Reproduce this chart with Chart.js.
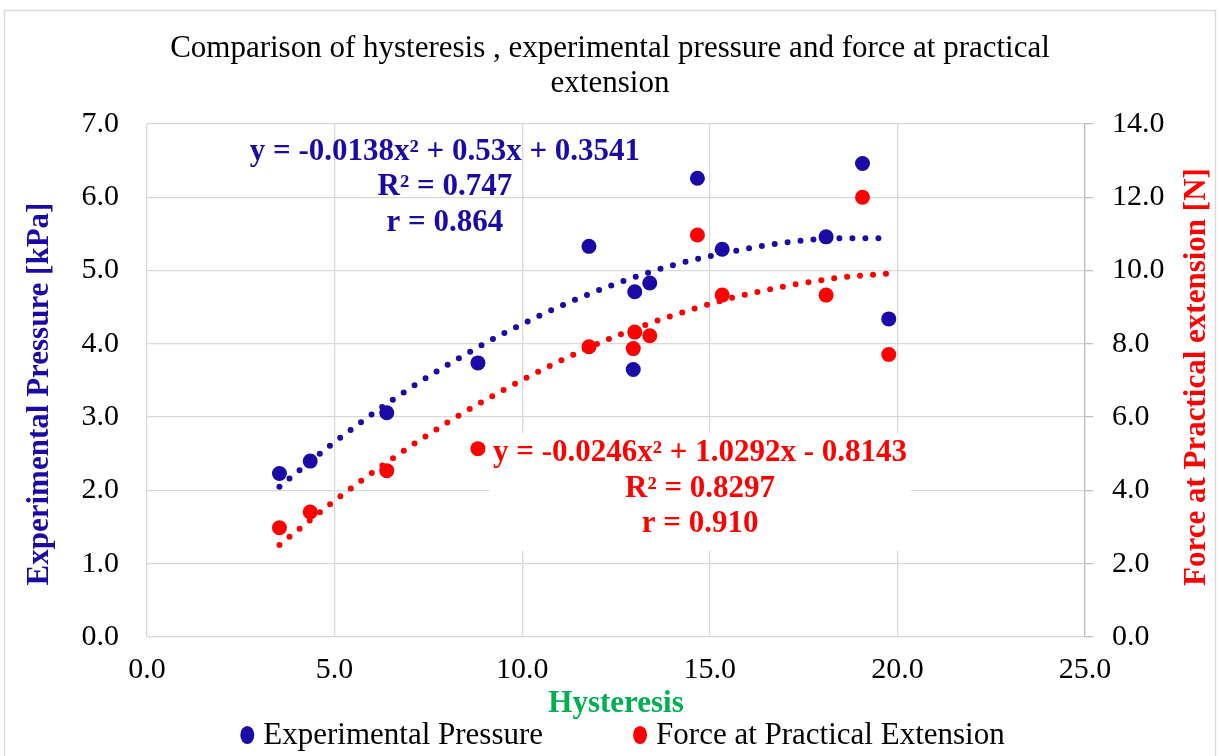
<!DOCTYPE html>
<html><head><meta charset="utf-8">
<script src="https://cdn.jsdelivr.net/npm/chart.js@4"></script>
<style>html,body{margin:0;padding:0;background:#fff;}canvas{display:block;}</style>
</head><body>
<canvas id="c" width="1220" height="756"></canvas>
<script>
// ---- data ----
const hysteresis = [3.53, 4.35, 6.39, 8.82, 11.78, 12.96, 13.00, 13.40, 14.67, 15.33, 18.10, 19.07, 19.77];
const pressure   = [2.23, 2.40, 3.06, 3.74, 5.33, 3.65, 4.71, 4.83, 6.26, 5.29, 5.46, 6.46, 4.34];
const force      = [2.98, 3.41, 4.54, 5.14, 7.92, 7.87, 8.32, 8.22, 10.97, 9.33, 9.33, 12.00, 7.71];
// dotted trend curves
const trendHysteresis = [3.53, 5.0, 6.5, 8.0, 9.5, 11.0, 12.5, 14.0, 15.5, 17.0, 18.5, 19.77];
const pressureTrend   = [2.05, 2.66, 3.22, 3.71, 4.14, 4.51, 4.82, 5.07, 5.25, 5.38, 5.44, 5.44];
const forceTrend      = [2.51, 3.72, 4.84, 5.85, 6.74, 7.53, 8.21, 8.77, 9.23, 9.57, 9.81, 9.92];
const titleLines = ['Comparison of hysteresis , experimental pressure and force at practical', 'extension'];
const pressureEquation = ['y = -0.0138x\u00B2 + 0.53x + 0.3541', 'R\u00B2 = 0.747', 'r = 0.864'];
const forceEquation = ['y = -0.0246x\u00B2 + 1.0292x - 0.8143', 'R\u00B2 = 0.8297', 'r = 0.910'];
const seriesNames = ['Experimental Pressure', 'Force at Practical Extension'];
const axisTitles = {x: 'Hysteresis', y: 'Experimental Pressure [kPa]', y2: 'Force at Practical extension [N]'};

const BLUE = '#1A0AA6', RED = '#FF0000', GREEN = '#00B050', GRID = '#D9D9D9';
const FONT = '"Liberation Serif", "Times New Roman", serif';
const EQ_FONT = 'bold 31px ' + FONT;

const toXY = (xs, ys) => xs.map((x, i) => ({x, y: ys[i]}));

function drawVerticalTitle(ctx, text, color, x, y) {
  ctx.save();
  ctx.font = 'bold 31px ' + FONT;
  ctx.fillStyle = color;
  ctx.textAlign = 'center';
  ctx.textBaseline = 'middle';
  ctx.translate(x, y);
  ctx.rotate(-Math.PI / 2);
  ctx.fillText(text, 0, 0);
  ctx.restore();
}

const decorPlugin = {
  id: 'decor',
  beforeDraw(chart) {
    const ctx = chart.ctx;
    ctx.save();
    ctx.fillStyle = '#fff';
    ctx.fillRect(0, 0, chart.width, chart.height);
    ctx.strokeStyle = GRID;
    ctx.lineWidth = 1.5;
    ctx.strokeRect(4.5, 10.5, chart.width - 9, chart.height + 20);
    ctx.restore();
  },
  beforeDatasetsDraw(chart) {
    // white background behind the force equation label
    const ctx = chart.ctx, sx = chart.scales.x, s2 = chart.scales.y2;
    const cx = sx.getPixelForValue(14.74), cy = s2.getPixelForValue(5.02);
    ctx.save();
    ctx.font = EQ_FONT;
    const w = Math.max(...forceEquation.map(t => ctx.measureText(t).width));
    ctx.fillStyle = '#fff';
    ctx.fillRect(cx - w / 2 - 4, cy - 20, w + 8, 118);
    ctx.restore();
  },
  afterDatasetsDraw(chart) {
    const ctx = chart.ctx, sx = chart.scales.x, s1 = chart.scales.y, s2 = chart.scales.y2;
    ctx.save();
    ctx.font = EQ_FONT;
    ctx.textAlign = 'center';
    ctx.textBaseline = 'middle';
    ctx.fillStyle = BLUE;
    let cx = sx.getPixelForValue(7.94), cy = s1.getPixelForValue(6.62);
    pressureEquation.forEach((t, i) => ctx.fillText(t, cx, cy + i * 35.5));
    ctx.fillStyle = RED;
    cx = sx.getPixelForValue(14.74); cy = s2.getPixelForValue(5.02);
    forceEquation.forEach((t, i) => ctx.fillText(t, cx, cy + i * 35.5));
    ctx.restore();
  },
  afterDraw(chart) {
    const ctx = chart.ctx;
    // axis titles, reading bottom to top
    drawVerticalTitle(ctx, axisTitles.y, BLUE, 40, 394);
    drawVerticalTitle(ctx, axisTitles.y2, RED, 1197, 377);
    // legend
    ctx.save();
    ctx.font = '31px ' + FONT;
    ctx.textBaseline = 'middle';
    ctx.textAlign = 'left';
    const items = chart.data.datasets.filter(d => d.inLegend);
    const r = 7, gapText = 9, gapItem = 90;
    const widths = items.map(d => 2 * r + gapText + ctx.measureText(d.label).width);
    const total = widths.reduce((a, b) => a + b, 0) + gapItem * (items.length - 1);
    let x = 622.5 - total / 2;
    const y = 735;
    items.forEach((d, i) => {
      ctx.fillStyle = d.backgroundColor;
      ctx.beginPath();
      ctx.ellipse(x + r, y, r, r * 1.3, 0, 0, Math.PI * 2);
      ctx.fill();
      ctx.fillStyle = '#000';
      ctx.fillText(d.label, x + 2 * r + gapText, y + 1);
      x += widths[i] + gapItem;
    });
    ctx.restore();
  }
};

const tickFont = {family: FONT, size: 30};
const fmt = v => Number(v).toFixed(1);

new Chart(document.getElementById('c'), {
  type: 'scatter',
  data: {
    datasets: [
      {label: 'Pressure trend', data: toXY(trendHysteresis, pressureTrend), type: 'line', yAxisID: 'y',
       borderColor: BLUE, borderWidth: 6, borderDash: [0, 13], borderCapStyle: 'round',
       pointRadius: 0, fill: false, cubicInterpolationMode: 'monotone', order: 0},
      {label: 'Force trend', data: toXY(trendHysteresis, forceTrend), type: 'line', yAxisID: 'y2',
       borderColor: RED, borderWidth: 6, borderDash: [0, 13], borderCapStyle: 'round',
       pointRadius: 0, fill: false, cubicInterpolationMode: 'monotone', order: 0},
      {label: seriesNames[0], data: toXY(hysteresis, pressure), yAxisID: 'y', inLegend: true,
       backgroundColor: BLUE, borderColor: BLUE, pointRadius: 7.5, pointBorderWidth: 0, order: 1},
      {label: seriesNames[1], data: toXY(hysteresis, force), yAxisID: 'y2', inLegend: true,
       backgroundColor: RED, borderColor: RED, pointRadius: 7.5, pointBorderWidth: 0, order: 1}
    ]
  },
  options: {
    responsive: false,
    animation: false,
    devicePixelRatio: 1,
    layout: {padding: {top: 0, left: 0, right: 0, bottom: 37}},
    plugins: {
      legend: {display: false},
      tooltip: {enabled: false},
      title: {
        display: true, text: titleLines, color: '#000',
        font: {family: FONT, size: 31, weight: 'normal', lineHeight: 1.13},
        padding: {top: 31.5, bottom: 22.4}
      }
    },
    scales: {
      x: {
        type: 'linear', min: 0, max: 25,
        ticks: {stepSize: 5, callback: fmt, font: tickFont, color: '#000', padding: 15, maxRotation: 0},
        grid: {color: GRID, lineWidth: 1.3, drawTicks: false},
        border: {display: false},
        title: {display: true, text: axisTitles.x, color: GREEN,
                font: {family: FONT, size: 31, weight: 'bold', lineHeight: 1.0}, padding: {top: 0, bottom: 0}},
        afterFit: s => { s.height = 82; }
      },
      y: {
        position: 'left', min: 0, max: 7,
        ticks: {stepSize: 1, callback: fmt, font: tickFont, color: '#000', padding: 28},
        grid: {color: GRID, lineWidth: 1.3, drawTicks: false},
        border: {display: false},
        afterFit: s => { s.width = 147; }
      },
      y2: {
        position: 'right', min: 0, max: 14,
        ticks: {stepSize: 2, callback: fmt, font: tickFont, color: '#000', padding: 19},
        grid: {drawOnChartArea: false, drawTicks: true, tickLength: 8, color: '#BFBFBF', lineWidth: 1.3},
        border: {display: true, color: '#BFBFBF', width: 1.3},
        afterFit: s => { s.width = 135; }
      }
    }
  },
  plugins: [decorPlugin]
});
</script>
</body></html>
